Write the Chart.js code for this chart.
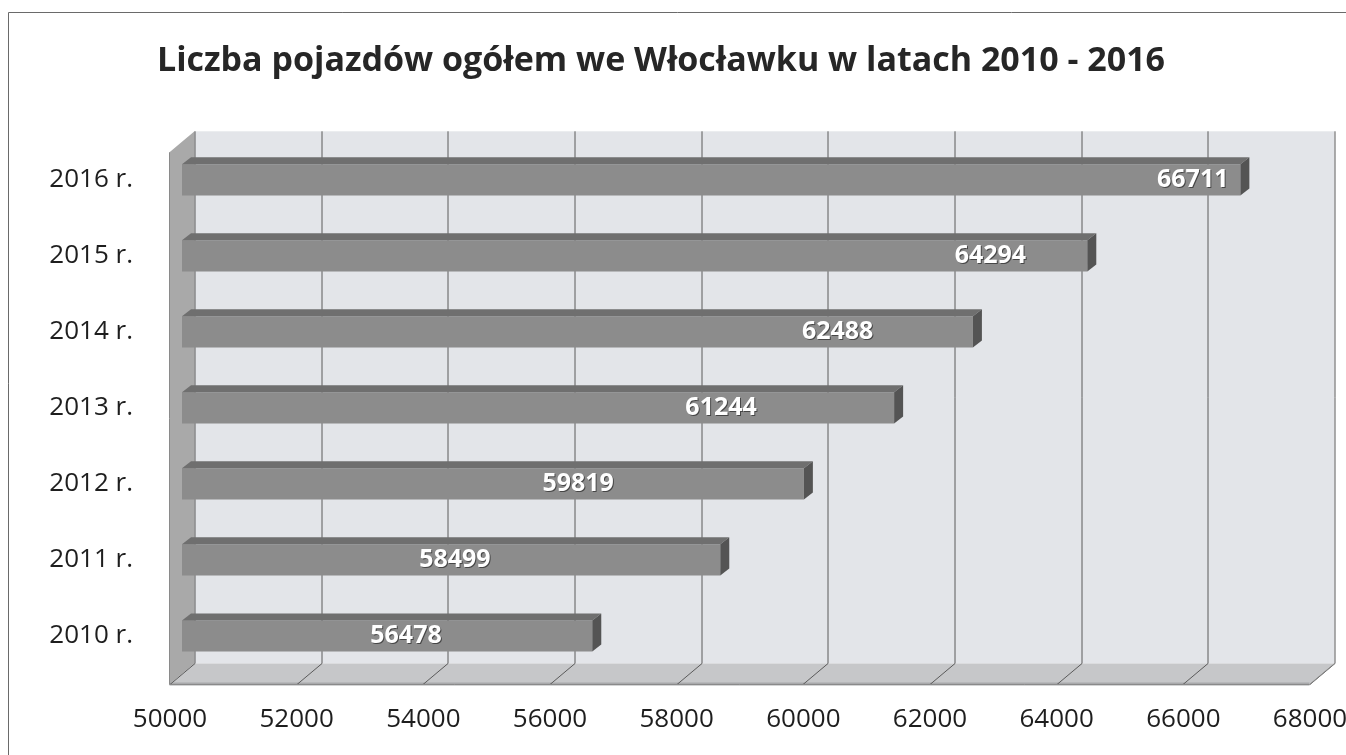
<!DOCTYPE html>
<html>
<head>
<meta charset="utf-8">
<script src="https://cdn.jsdelivr.net/npm/chart.js@4/dist/chart.umd.min.js"></script>
<style>
    body { margin: 0; background: #ffffff; }
    canvas { display: block; }
</style>
</head>
<body>
<canvas id="chart" width="1346" height="755"></canvas>
<script>
// Data (oldest first, drawn bottom-up)
const years = ['2010 r.', '2011 r.', '2012 r.', '2013 r.', '2014 r.', '2015 r.', '2016 r.'];
const vehicles = [56478, 58499, 59819, 61244, 62488, 64294, 66711];
// where each value label sits along its bar (share of bar length)
const labelSpots = [0.546, 0.507, 0.637, 0.757, 0.829, 0.893, 0.955];

const xMin = 50000;
const xMax = 68000;
const xStep = 2000;

// 3D depth of walls and bars
const depth = { dx: 12.5, dy: 10.5 };
const barDepth = { dx: 9, dy: 7 };

const wallsPlugin = {
    id: 'walls',
    beforeDatasetsDraw(chart) {
        const ctx = chart.ctx;
        const area = chart.chartArea;
        const xs = chart.scales.x;
        const L = area.left, R = area.right, T = area.top, B = area.bottom;
        const dx = depth.dx, dy = depth.dy;

        ctx.save();
        // back wall
        ctx.fillStyle = '#e3e5e9';
        ctx.fillRect(L + dx, T - dy, R - L, B - T);

        // left side wall
        ctx.fillStyle = '#a9a9a9';
        ctx.beginPath();
        ctx.moveTo(L + dx, T - dy);
        ctx.lineTo(L - dx, T + dy);
        ctx.lineTo(L - dx, B + dy);
        ctx.lineTo(L + dx, B - dy);
        ctx.closePath();
        ctx.fill();

        // floor
        ctx.fillStyle = '#c6c7c9';
        ctx.beginPath();
        ctx.moveTo(L + dx, B - dy);
        ctx.lineTo(R + dx, B - dy);
        ctx.lineTo(R - dx, B + dy);
        ctx.lineTo(L - dx, B + dy);
        ctx.closePath();
        ctx.fill();
        ctx.fillStyle = '#a8a9ab';
        ctx.fillRect(L - dx, B + dy - 2, R - L, 3);

        // gridlines on back wall and floor
        ctx.strokeStyle = '#5a5a5a';
        ctx.lineWidth = 1;
        xs.ticks.forEach(t => {
            const px = Math.round(xs.getPixelForValue(t.value)) + 0.5;
            ctx.beginPath();
            ctx.moveTo(px + dx, T - dy);
            ctx.lineTo(px + dx, B - dy);
            ctx.lineTo(px - dx, B + dy);
            ctx.stroke();
        });
        ctx.strokeStyle = '#8a8a8a';
        ctx.beginPath();
        ctx.moveTo(L - dx, T + dy);
        ctx.lineTo(L - dx, B + dy);
        ctx.lineTo(R - dx, B + dy);
        ctx.lineTo(R + dx, B - dy);
        ctx.stroke();
        ctx.restore();
    }
};

const barsPlugin = {
    id: 'bars3d',
    afterDatasetsDraw(chart) {
        const ctx = chart.ctx;
        const left = chart.chartArea.left;
        const meta = chart.getDatasetMeta(0);
        ctx.save();
        meta.data.forEach((bar, i) => {
            const start = Math.max(bar.base, left);
            const top = bar.y - bar.height / 2;
            const bottom = bar.y + bar.height / 2;
            // top face
            ctx.fillStyle = '#6f6f6f';
            ctx.beginPath();
            ctx.moveTo(start, top);
            ctx.lineTo(bar.x, top);
            ctx.lineTo(bar.x + barDepth.dx, top - barDepth.dy);
            ctx.lineTo(start + barDepth.dx, top - barDepth.dy);
            ctx.closePath();
            ctx.fill();
            // side face
            ctx.fillStyle = '#545454';
            ctx.beginPath();
            ctx.moveTo(bar.x, top);
            ctx.lineTo(bar.x + barDepth.dx, top - barDepth.dy);
            ctx.lineTo(bar.x + barDepth.dx, bottom - barDepth.dy);
            ctx.lineTo(bar.x, bottom);
            ctx.closePath();
            ctx.fill();

            // value label
            const lx = start + (bar.x - start) * labelSpots[i];
            ctx.font = 'bold 25px "Open Sans"';
            ctx.textAlign = 'center';
            ctx.textBaseline = 'middle';
            ctx.fillStyle = 'rgba(40,40,40,0.7)';
            ctx.fillText(String(vehicles[i]), lx + 1, bar.y + 1);
            ctx.fillStyle = '#ffffff';
            ctx.fillText(String(vehicles[i]), lx, bar.y);
        });
        ctx.restore();
    }
};

const framePlugin = {
    id: 'frame',
    afterDraw(chart) {
        const ctx = chart.ctx;
        ctx.save();
        ctx.strokeStyle = '#6a6a6a';
        ctx.lineWidth = 1;
        ctx.beginPath();
        ctx.moveTo(8.5, chart.height);
        ctx.lineTo(8.5, 12.5);
        ctx.lineTo(chart.width, 12.5);
        ctx.stroke();
        ctx.restore();
    }
};

const ctx = document.getElementById('chart').getContext('2d');
new Chart(ctx, {
    type: 'bar',
    data: {
        labels: years,
        datasets: [{
            label: 'Liczba pojazdów',
            data: vehicles,
            backgroundColor: '#8c8c8c',
            borderWidth: 0,
            barPercentage: 0.41,
            categoryPercentage: 1
        }]
    },
    options: {
        indexAxis: 'y',
        responsive: false,
        animation: false,
        layout: { padding: { left: 0, right: 24, top: 0, bottom: 0 } },
        scales: {
            x: {
                min: xMin,
                max: xMax,
                grid: { display: false, drawTicks: false },
                border: { display: false },
                ticks: {
                    stepSize: xStep,
                    padding: 30,
                    labelOffset: -12,
                    color: '#1e1e1e',
                    font: { family: 'Open Sans', size: 26 },
                    callback: v => String(v)
                },
                afterFit: scale => {
                    scale.height = 81;
                    scale.paddingLeft = 0;
                    scale.paddingRight = 0;
                }
            },
            y: {
                reverse: true,
                grid: { display: false, drawTicks: false },
                border: { display: false },
                ticks: {
                    padding: 49,
                    color: '#1e1e1e',
                    font: { family: 'Open Sans', size: 26 }
                },
                afterFit: scale => { scale.width = 182; }
            }
        },
        plugins: {
            legend: { display: false },
            tooltip: { enabled: false },
            title: {
                display: true,
                text: 'Liczba pojazdów ogółem we Włocławku w latach 2010 - 2016',
                color: '#262626',
                font: { family: 'Open Sans', size: 34, weight: 'bold' },
                padding: { top: 41, bottom: 60 }
            }
        }
    },
    plugins: [wallsPlugin, barsPlugin, framePlugin]
});
</script>
</body>
</html>
